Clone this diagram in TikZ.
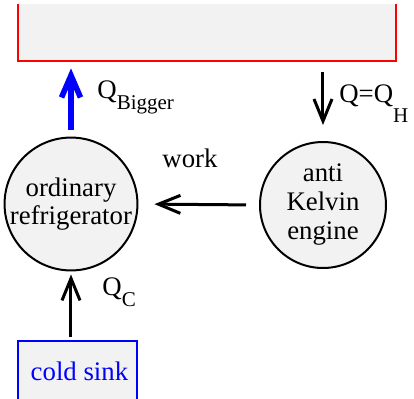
\documentclass[tikz,border=0pt]{standalone}
\usepackage{fontspec}
\setmainfont{Liberation Serif}
\usetikzlibrary{arrows.meta}
\newcommand{\lowsub}[2]{\raisebox{-#1}{\fontsize{10.5}{12}\selectfont #2}}

\begin{document}
\begin{tikzpicture}[x=0.5pt, y=-0.5pt, font=\fontsize{13.4}{14.5}\selectfont,
  device/.style={circle, draw, line width=1pt, fill=black!5, minimum size=63pt, inner sep=0pt, align=center},
  flow/.style={line width=1.5pt, -{Straight Barb[length=11pt, width=9pt]}}]
\useasboundingbox (0,0) rectangle (414,398);
% reservoirs
\node[fill=black!5, minimum width=189pt, minimum height=28.5pt, inner sep=0pt] (hot) at (207,32.5) {};
\draw[red, line width=1pt] (hot.north west) -- (hot.south west) -- (hot.south east) -- (hot.north east);
\node[fill=black!5, minimum width=59.5pt, minimum height=30.5pt, inner sep=0pt, text=blue] (sink) at (77.5,371.5) {\hspace*{2pt}cold sink};
\draw[blue, line width=1pt] (sink.south west) -- (sink.north west) -- (sink.north east) -- (sink.south east);
% machines
\node[device] (fridge) at (71,204) {\raisebox{2.5pt}{\shortstack{ordinary\\[-1pt]refrigerator}}};
\node[device] (engine) at (323,205) {anti\\Kelvin\\engine};
% heat and work flows
\draw[flow, blue, line width=2.8pt, -{Straight Barb[length=11pt, width=9.5pt]}, shorten <=3.5pt, shorten >=3.5pt] (fridge.north) -- (fridge |- hot.south);
\draw[flow, shorten <=5.5pt, shorten >=8pt] (hot.south -| engine) -- (engine.north);
\draw[flow, shorten <=6.5pt, shorten >=8pt] (engine.west) -- (fridge.east);
\draw[flow, shorten <=2pt, shorten >=1.5pt] (sink.north -| fridge) -- (fridge.south);
% labels
\node[anchor=base west, inner sep=0pt] (qbig) at (97,98) {Q\lowsub{5.5pt}{Bigger}};
\node[anchor=base west, inner sep=0pt] (qh) at (339,102) {Q=Q\lowsub{10pt}{H}};
\node[inner sep=0pt] (work) at (190,158) {work};
\node[anchor=base west, inner sep=0pt] (qc) at (102,295) {Q\lowsub{5.5pt}{C}};
\end{tikzpicture}
\end{document}
